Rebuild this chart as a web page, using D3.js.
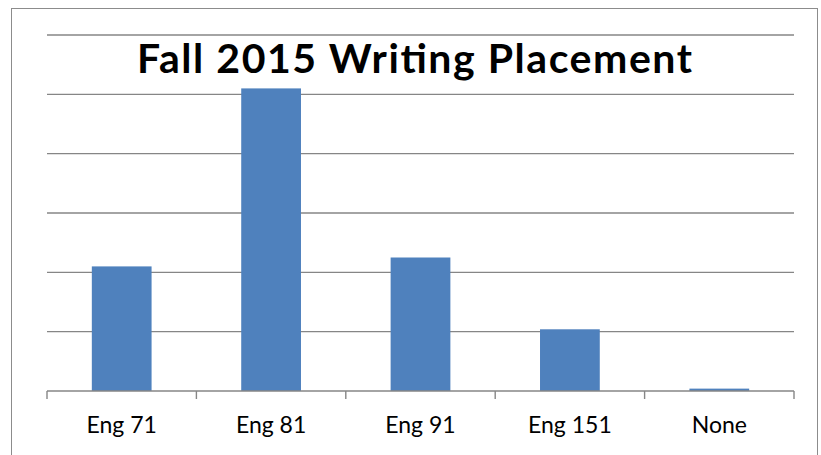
<!DOCTYPE html>
<html>
<head>
<meta charset="utf-8">
<script src="https://cdn.jsdelivr.net/npm/d3@7"></script>
<style>
  body { margin: 0; background: #fff; }
  text { font-family: Lato, "Open Sans", sans-serif; }
</style>
</head>
<body>
<div id="canvas"></div>
<script>
const categories = ["Eng 71", "Eng 81", "Eng 91", "Eng 151", "None"];
const counts = [210, 510, 225, 104, 4];
const gridTicks = [0, 100, 200, 300, 400, 500, 600];

let margin = { top: 35, right: 27, bottom: 64, left: 47 },
  width = 821 - margin.left - margin.right,
  height = 455 - margin.top - margin.bottom;

let root = d3.select("#canvas")
  .append("svg")
  .attr("width", 821)
  .attr("height", 455);

// outer chart frame
root.append("rect")
  .attr("x", 11.5)
  .attr("y", 8.5)
  .attr("width", 806)
  .attr("height", 460)
  .attr("fill", "none")
  .attr("stroke", "#8c8c8c")
  .attr("stroke-width", 1);

let svg = root.append("g")
  .attr("transform", "translate(" + margin.left + "," + margin.top + ")");

let xScale = d3.scaleBand()
  .domain(categories)
  .range([0, width]);

let yScale = d3.scaleLinear()
  .domain([0, 600])
  .range([height, 0]);

// horizontal gridlines
svg.selectAll(".grid")
  .data(gridTicks.slice(1))
  .enter()
  .append("line")
  .attr("class", "grid")
  .attr("x1", 0)
  .attr("x2", width)
  .attr("y1", d => yScale(d))
  .attr("y2", d => yScale(d))
  .attr("stroke", "#868686")
  .attr("stroke-width", 1.4);

// bars
let barW = xScale.bandwidth() * 0.4;
svg.selectAll(".bar")
  .data(counts)
  .enter()
  .append("rect")
  .attr("class", "bar")
  .attr("x", (d, i) => xScale(categories[i]) + (xScale.bandwidth() - barW) / 2)
  .attr("y", d => yScale(d))
  .attr("width", barW)
  .attr("height", d => height - yScale(d))
  .attr("fill", "#4f81bd");

// x axis with ticks between categories
let xAxis = svg.append("g")
  .attr("transform", "translate(0," + height + ")");
xAxis.append("line")
  .attr("x1", 0).attr("x2", width)
  .attr("y1", 0).attr("y2", 0)
  .attr("stroke", "#868686")
  .attr("stroke-width", 1.4);
xAxis.selectAll(".tick")
  .data(categories.concat(["end"]))
  .enter()
  .append("line")
  .attr("x1", (d, i) => i < categories.length ? xScale(d) : width)
  .attr("x2", (d, i) => i < categories.length ? xScale(d) : width)
  .attr("y1", 0)
  .attr("y2", 8)
  .attr("stroke", "#868686")
  .attr("stroke-width", 1.4);
xAxis.selectAll(".label")
  .data(categories)
  .enter()
  .append("text")
  .attr("x", d => xScale(d) + xScale.bandwidth() / 2)
  .attr("y", 42)
  .attr("text-anchor", "middle")
  .style("font-size", "23px")
  .style("fill", "#000")
  .text(d => d);

// title (sits a little left of the plot centre, as in the original)
svg.append("text")
  .attr("x", width / 2 - 6)
  .attr("y", 38)
  .attr("text-anchor", "middle")
  .attr("textLength", 555)
  .attr("lengthAdjust", "spacing")
  .style("font-size", "41px")
  .style("font-weight", "bold")
  .style("fill", "#000")
  .text("Fall 2015 Writing Placement");
</script>
</body>
</html>
